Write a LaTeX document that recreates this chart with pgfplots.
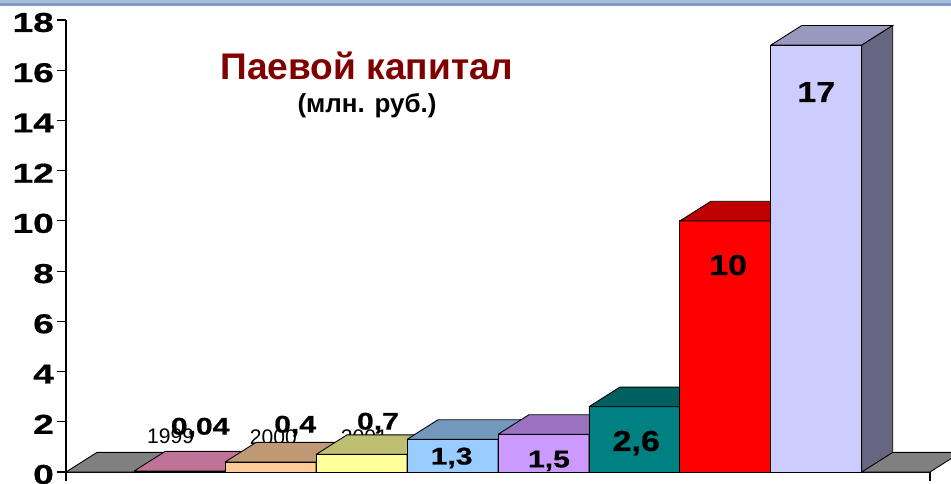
\documentclass[border=0pt]{standalone}
\usepackage{pgfplots}
\pgfplotsset{compat=1.18}
\usepackage{fontspec}
\setmainfont{Liberation Sans}
\newfontfamily\heavy[FakeBold=0.6]{Liberation Sans Bold}
\usepackage{graphicx}

\definecolor{c1F}{HTML}{FF99CC}\definecolor{c1T}{HTML}{BF7399}\definecolor{c1S}{HTML}{804C66}
\definecolor{c2F}{HTML}{FFCC99}\definecolor{c2T}{HTML}{BF9973}\definecolor{c2S}{HTML}{80664C}
\definecolor{c3F}{HTML}{FFFF99}\definecolor{c3T}{HTML}{BFBF73}\definecolor{c3S}{HTML}{80804C}
\definecolor{c4F}{HTML}{99CCFF}\definecolor{c4T}{HTML}{7399BF}\definecolor{c4S}{HTML}{4C6680}
\definecolor{c5F}{HTML}{CC99FF}\definecolor{c5T}{HTML}{9973BF}\definecolor{c5S}{HTML}{664C80}
\definecolor{c6F}{HTML}{008080}\definecolor{c6T}{HTML}{006060}\definecolor{c6S}{HTML}{004040}
\definecolor{c7F}{HTML}{FF0000}\definecolor{c7T}{HTML}{BF0000}\definecolor{c7S}{HTML}{800000}
\definecolor{c8F}{HTML}{CCCCFF}\definecolor{c8T}{HTML}{9999BF}\definecolor{c8S}{HTML}{666680}
\definecolor{floorT}{HTML}{808080}
\definecolor{titlered}{HTML}{800000}
\definecolor{frameA}{HTML}{A9BCDD}
\definecolor{frameB}{HTML}{7D98C9}

\newcommand\dx{0.34}
\newcommand\dy{0.78}

% #1 category position, #2 value, #3 colour prefix
\newcommand{\drawbar}[3]{%
  \pgfmathsetmacro\xa{#1-0.5}%
  \pgfmathsetmacro\xb{#1+0.5}%
  \pgfmathsetmacro\xc{#1-0.5+\dx}%
  \pgfmathsetmacro\xd{#1+0.5+\dx}%
  \pgfmathsetmacro\yt{#2+\dy}%
  \edef\doit{%
    \noexpand\addplot[fill=#3F,draw=black,line width=0.5pt] coordinates {(\xa,0) (\xb,0) (\xb,#2) (\xa,#2) (\xa,0)};
    \noexpand\addplot[fill=#3T,draw=black,line width=0.5pt] coordinates {(\xa,#2) (\xb,#2) (\xd,\yt) (\xc,\yt) (\xa,#2)};
    \noexpand\addplot[fill=#3S,draw=black,line width=0.5pt] coordinates {(\xb,0) (\xd,\dy) (\xd,\yt) (\xb,#2) (\xb,0)};
  }\doit
}

\begin{document}
\begin{tikzpicture}
% slide frame fragment at the top
\fill[frameA] (0,9.66cm-0.12cm) rectangle (19.02cm,9.66cm);
\fill[frameB] (0,9.66cm-0.12cm) rectangle (19.02cm,9.66cm-0.07cm);

\begin{axis}[
  at={(1.32cm,0.22cm)}, anchor=south west, scale only axis,
  width=17.28cm, height=9.04cm,
  xmin=-1.25, xmax=8.25, ymin=0, ymax=18,
  clip=false,
  axis x line*=bottom, axis y line*=left,
  x axis line style={-, line width=0.6pt}, y axis line style={-, line width=0.6pt},
  tick align=outside, major tick length=0.18cm,
  tick style={black, line width=0.6pt},
  xtick={-1.25,8.25}, xticklabels={},
  ytick={0,2,...,18},
  yticklabel={\scalebox{1.35}[1]{\pgfmathprintnumber[assume math mode=true]{\tick}}},
  yticklabel style={font=\fontsize{15.6}{16}\heavy, xshift=0.06cm, yshift=-0.05cm},
]
% floor
\addplot[fill=floorT,draw=black,line width=0.5pt] coordinates {(-1.25,0) (8.25,0) (8.59,0.78) (-0.91,0.78) (-1.25,0)};

% category labels (behind the bars)
\node[font=\fontsize{12}{14}\selectfont] at (axis cs:-0.10,1.43) {1999};
\node[font=\fontsize{12}{14}\selectfont] at (axis cs:1.03,1.39) {2000};
\node[font=\fontsize{12}{14}\selectfont] at (axis cs:2.03,1.39) {2001};

% bars: position, value, colour
\drawbar{0}{0.04}{c1}
\drawbar{1}{0.4}{c2}
\drawbar{2}{0.7}{c3}
\drawbar{3}{1.3}{c4}
\drawbar{4}{1.5}{c5}
\drawbar{5}{2.6}{c6}
\drawbar{6}{10}{c7}
\drawbar{7}{17}{c8}

% value labels
\tikzset{vsmall/.style={font=\fontsize{13.7}{15}\heavy},
         vbig/.style={font=\fontsize{16.4}{18}\heavy}}
\node[vsmall] at (axis cs:0.225,1.75) {\scalebox{1.25}[1]{0,04}};
\node[vsmall] at (axis cs:1.27,1.83) {\scalebox{1.25}[1]{0,4}};
\node[vsmall] at (axis cs:2.18,1.95) {\scalebox{1.25}[1]{0,7}};
\node[vsmall] at (axis cs:2.99,0.56) {\scalebox{1.25}[1]{1,3}};
\node[vsmall] at (axis cs:4.06,0.44) {\scalebox{1.25}[1]{1,5}};
\node[vbig] at (axis cs:5.02,1.15) {\scalebox{1.18}[1]{2,6}};
\node[vbig] at (axis cs:6.03,8.24) {\scalebox{1.18}[1]{10}};
\node[vbig] at (axis cs:7.0,15.13) {\scalebox{1.18}[1]{17}};

% title
\node[font=\fontsize{21.1}{24}\selectfont\bfseries, text=titlered] at (axis cs:2.06,16.17) {Паевой капитал};
\node[font=\fontsize{14.8}{16}\selectfont\bfseries] at (axis cs:2.06,14.58) {(млн. руб.)};
\end{axis}
\pgfresetboundingbox
\useasboundingbox (0,0) rectangle (19.02cm,9.66cm);
\end{tikzpicture}
\end{document}
